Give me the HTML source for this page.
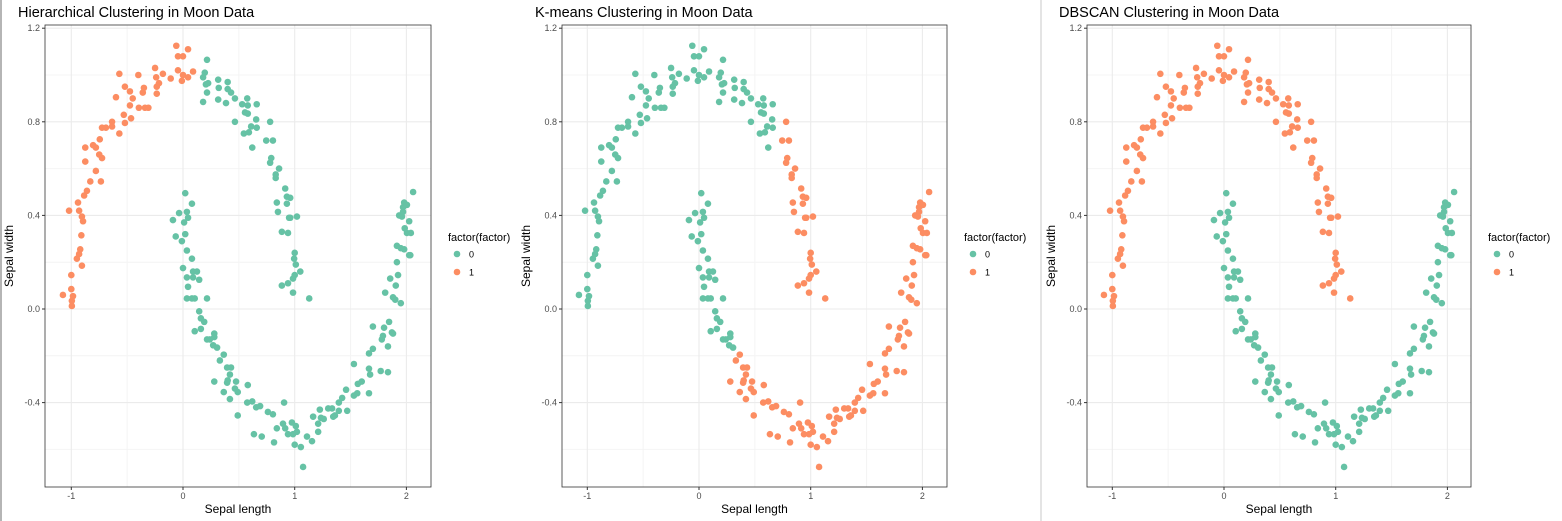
<!DOCTYPE html>
<html><head><meta charset="utf-8"><style>
html,body{margin:0;padding:0;background:#fff;}
svg{display:block;font-family:"Liberation Sans",sans-serif;}
</style></head><body>
<svg id="root" width="1562" height="521" viewBox="0 0 1562 521">
<rect x="0" y="0" width="1562" height="521" fill="#fff"/>
<line x1="1" y1="0" x2="1" y2="521" stroke="#b5b5b5" stroke-width="2"/>
<line x1="1041" y1="0" x2="1041" y2="521" stroke="#c8c8c8" stroke-width="1"/>
</svg>
<script>
// ---- data (shared points, three clusterings) ----
const xs = [
-0.06,0.045,-0.045,0,0.09,-0.045,0,0.045,-0.01,-0.11,-0.18,-0.25,-0.24,-0.215,-0.235,-0.235,-0.35,-0.36,-0.40,-0.57,
-0.52,-0.475,-0.60,-0.45,-0.475,-0.395,-0.34,-0.31,-0.53,-0.465,-0.52,-0.635,-0.635,-0.725,-0.69,-0.57,-0.745,-0.875,-0.805,-0.78,
-0.75,-0.725,-0.875,-0.78,-0.83,-0.735,-0.86,-0.885,-0.94,-1.02,-0.93,-0.905,-0.895,-0.91,-0.92,-0.93,-0.95,-0.905,-1.0,-1.0,
-1.075,-0.985,-0.995,-0.995,
0.215,0.195,0.18,0.205,0.225,0.215,0.18,0.315,0.32,0.40,0.40,0.43,0.465,0.315,0.385,0.53,0.575,0.58,0.66,0.555,
0.58,0.655,0.465,0.61,0.66,0.545,0.59,0.62,
0.78,0.745,0.805,0.79,0.78,0.86,0.83,0.83,0.93,0.84,0.93,0.85,0.95,0.885,0.94,0.915,0.96,0.96,1.02,1.0,
0.995,1.01,1.05,1.0,0.985,0.885,0.94,0.985,1.13,
0.02,0.08,-0.035,0.035,-0.09,0.045,0.01,0.02,-0.065,-0.01,0.035,0.08,0.0,0.09,0.125,0.09,0.035,0.145,0.045,0.035,
0.08,0.105,0.215,0.145,0.16,0.19,0.105,0.16,0.28,0.28,0.215,0.24,0.27,0.305,
0.365,0.33,0.395,0.43,0.42,0.40,0.395,0.475,0.28,0.365,0.465,0.49,0.58,0.42,0.575,0.62,0.655,0.69,0.49,0.76,
0.805,0.905,0.895,0.975,0.84,0.915,1.01,0.635,0.705,0.815,0.94,0.985,1.02,1.0,1.055,1.075,1.11,1.155,1.21,1.21,
1.165,1.225,1.235,1.26,1.30,1.335,1.345,1.36,1.395,1.395,1.425,1.46,1.47,1.53,1.56,1.565,1.60,1.665,1.665,1.675,
1.53,1.665,1.70,1.77,1.835,1.78,1.79,1.835,1.70,1.80,1.845,1.87,1.88,1.81,1.88,1.90,1.95,1.905,1.855,1.925,
1.915,2.025,2.035,1.915,1.95,1.98,1.985,2.005,2.04,2.025,1.935,1.96,1.97,1.97,1.98,2.005,2.06
];
const ys = [
1.125,1.11,1.08,1.08,1.015,1.02,1.0,0.99,0.975,0.985,1.005,1.03,0.99,0.965,0.95,0.92,0.945,0.925,1.0,1.005,
0.95,0.93,0.905,0.90,0.87,0.86,0.86,0.86,0.83,0.815,0.795,0.80,0.78,0.775,0.775,0.75,0.725,0.69,0.70,0.69,
0.66,0.645,0.63,0.59,0.545,0.545,0.505,0.485,0.455,0.42,0.42,0.395,0.375,0.315,0.255,0.235,0.215,0.185,0.145,0.085,
0.06,0.055,0.035,0.013,
1.065,1.01,0.99,0.96,0.965,0.925,0.885,0.98,0.945,0.97,0.94,0.925,0.90,0.895,0.88,0.875,0.90,0.87,0.875,0.84,
0.835,0.81,0.80,0.78,0.775,0.75,0.755,0.69,
0.80,0.72,0.72,0.645,0.625,0.60,0.575,0.56,0.48,0.455,0.45,0.415,0.39,0.33,0.325,0.515,0.475,0.39,0.395,0.24,
0.215,0.19,0.16,0.145,0.13,0.10,0.11,0.07,0.045,
0.495,0.45,0.41,0.415,0.38,0.39,0.37,0.32,0.31,0.29,0.25,0.215,0.175,0.16,0.16,0.135,0.135,0.125,0.095,0.045,
0.045,0.045,0.045,-0.01,-0.04,-0.055,-0.095,-0.085,-0.105,-0.12,-0.13,-0.13,-0.155,-0.165,
-0.195,-0.22,-0.25,-0.25,-0.28,-0.305,-0.315,-0.31,-0.31,-0.355,-0.34,-0.355,-0.325,-0.385,-0.40,-0.395,-0.42,-0.415,-0.455,-0.44,
-0.45,-0.40,-0.49,-0.485,-0.51,-0.51,-0.50,-0.535,-0.545,-0.57,-0.535,-0.535,-0.525,-0.58,-0.59,-0.675,-0.545,-0.565,-0.525,-0.49,
-0.46,-0.43,-0.465,-0.47,-0.425,-0.425,-0.46,-0.455,-0.435,-0.40,-0.38,-0.345,-0.435,-0.37,-0.36,-0.32,-0.31,-0.36,-0.255,-0.28,
-0.235,-0.19,-0.17,-0.265,-0.27,-0.13,-0.115,-0.16,-0.075,-0.08,-0.055,-0.10,-0.105,0.07,0.05,0.04,0.025,0.10,0.13,0.145,
0.20,0.23,0.23,0.27,0.26,0.255,0.345,0.325,0.325,0.375,0.40,0.395,0.415,0.435,0.455,0.445,0.50
];
// cluster labels (digits grouped in tens)
const hierLabels = ("1111111111 1111111111 1111111111 1111111111 1111111111 1111111111 1111 " +
  "0000000000 0000000000 0000000000 0000000000 0000000000 0000000 " +
  "0000000000 0000000000 0000000000 0000000000 0000000000 0000000000 0000000000 0000000000 0000000000 0000000000 0000000000 0000000000 0000000000 0")
  .replace(/ /g,'').split('').map(Number);
const kmeansLabels = ("0000000000 0000000000 0000000000 0000000000 0000000000 0000000000 0000 " +
  "0000000000 0000000000 00000000 1111111111 1111111111 111111111 " +
  "0000000000 0000000000 0000000000 0000 " +
  "1111111111 1111111111 1111111111 1111111111 1111111111 1111111111 1111111111 1111111111 1111111111 1111111")
  .replace(/ /g,'').split('').map(Number);
const dbscanLabels = ("1111111111 1111111111 1111111111 1111111111 1111111111 1111111111 1111 " +
  "1111111111 1111111111 1111111111 1111111111 1111111111 1111111 " +
  "0000000000 0000000000 0000000000 0000000000 0000000000 0000000000 0000000000 0000000000 0000000000 0000000000 0000000000 0000000000 0000000000 0")
  .replace(/ /g,'').split('').map(Number);
const xTicks = [-1, 0, 1, 2];
const xTickLabels = ["-1", "0", "1", "2"];
const yTicks = [1.2, 0.8, 0.4, 0.0, -0.4];
const yTickLabels = ["1.2", "0.8", "0.4", "0.0", "-0.4"];
const xMinor = [-0.5, 0.5, 1.5];
const yMinor = [1.0, 0.6, 0.2, -0.2, -0.6];
const legendLevels = ["0", "1"];
const panelTitles = ["Hierarchical Clustering in Moon Data", "K-means Clustering in Moon Data", "DBSCAN Clustering in Moon Data"];
const panelLabels = [hierLabels, kmeansLabels, dbscanLabels];
const panelKeys = ["hierarchical", "kmeans", "dbscan"];

const colors = ["#66c2a5", "#fc8d62"];
const NS = "http://www.w3.org/2000/svg";
const root = document.getElementById('root');
function mk(tag, attrs, parent, text) {
  const e = document.createElementNS(NS, tag);
  for (const k in attrs) e.setAttribute(k, attrs[k]);
  if (text !== undefined) e.textContent = text;
  (parent || root).appendChild(e);
  return e;
}
const panels = [
  {ox: 0, left: 45, right: 431, x0: 183},
  {ox: 517, left: 562, right: 947, x0: 699},
  {ox: 1041, left: 1087, right: 1471, x0: 1224}
];
const TOP = 25, BOTTOM = 487, Y0 = 309, SX = 111.7, SY = 234;

panels.forEach((p, pi) => {
  const xScale = v => p.x0 + v * SX;
  const yScale = v => Y0 - v * SY;
  const g = mk('g', {});
  
  
  const t = mk('text', {x: p.ox + 18, y: 17, 'font-size': 14.5, fill: '#000'}, g, panelTitles[pi]);
  
  
  const bg = mk('rect', {x: p.left, y: TOP, width: p.right - p.left, height: BOTTOM - TOP, fill: '#fff'}, g);
  
  
  xMinor.forEach(v => { const l = mk('line', {x1: xScale(v), x2: xScale(v), y1: TOP, y2: BOTTOM, stroke: '#f4f4f4', 'stroke-width': 1}, g);
      });
  yMinor.forEach(v => { const l = mk('line', {x1: p.left, x2: p.right, y1: yScale(v), y2: yScale(v), stroke: '#f4f4f4', 'stroke-width': 1}, g);
      });
  xTicks.forEach((v, i) => {
    const l = mk('line', {x1: xScale(v), x2: xScale(v), y1: TOP, y2: BOTTOM, stroke: '#ebebeb', 'stroke-width': 1.1}, g);
     
    mk('line', {x1: xScale(v), x2: xScale(v), y1: BOTTOM, y2: BOTTOM + 3, stroke: '#333'}, g);
    const tl = mk('text', {x: xScale(v), y: BOTTOM + 12, 'font-size': 9, fill: '#4d4d4d', 'text-anchor': 'middle'}, g, xTickLabels[i]);
     
  });
  yTicks.forEach((v, i) => {
    const l = mk('line', {x1: p.left, x2: p.right, y1: yScale(v), y2: yScale(v), stroke: '#ebebeb', 'stroke-width': 1.1}, g);
     
    mk('line', {x1: p.left - 3, x2: p.left, y1: yScale(v), y2: yScale(v), stroke: '#333'}, g);
    const tl = mk('text', {x: p.left - 5, y: yScale(v) + 3, 'font-size': 9, fill: '#4d4d4d', 'text-anchor': 'end'}, g, yTickLabels[i]);
     
  });
  const labs = panelLabels[pi];
  xs.forEach((xv, i) => {
    const c = mk('circle', {cx: xScale(xv), cy: yScale(ys[i]), r: 3.3, fill: colors[labs[i]]}, g);
    
    
  });
  const border = mk('rect', {x: p.left, y: TOP, width: p.right - p.left, height: BOTTOM - TOP, fill: 'none', stroke: '#333', 'stroke-width': 0.8}, g);
  
  
  const xt = mk('text', {x: (p.left + p.right) / 2, y: 513, 'font-size': 12, fill: '#000', 'text-anchor': 'middle'}, g, 'Sepal length');
   
  const yt = mk('text', {x: 0, y: 0, 'font-size': 12, fill: '#000', 'text-anchor': 'middle', transform: `translate(${p.left - 32},${(TOP + BOTTOM) / 2}) rotate(-90)`}, g, 'Sepal width');
   
  const lg = mk('g', {}, g);
  
  
  const lt = mk('text', {x: p.right + 17, y: 241, 'font-size': 11, fill: '#000'}, lg, 'factor(factor)');
   
  legendLevels.forEach((lv, li) => {
    const e = mk('g', {}, lg);
    
    
    mk('circle', {cx: p.right + 26, cy: 254 + li * 18, r: 3.3, fill: colors[li]}, e);
    mk('text', {x: p.right + 38, y: 257.5 + li * 18, 'font-size': 9, fill: '#000'}, e, lv);
  });
});
</script>
</body></html>
